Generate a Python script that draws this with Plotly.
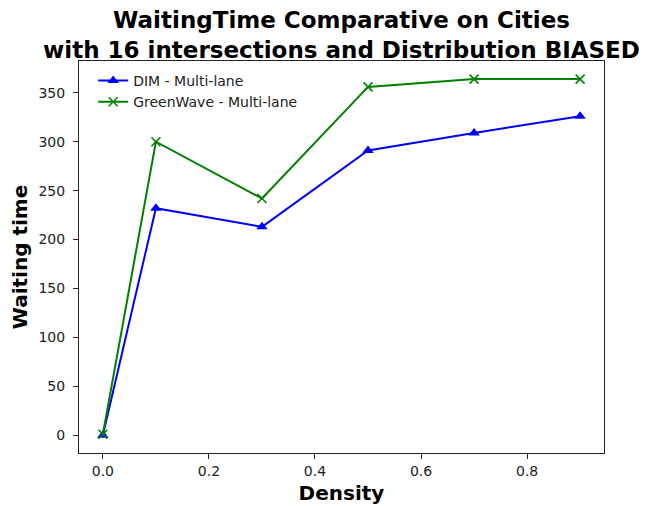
import plotly.graph_objects as go

density = [0.0, 0.1, 0.3, 0.5, 0.7, 0.9]
dim_multilane = [0, 232, 213, 291, 309, 326]
greenwave_multilane = [1, 300, 242, 356, 364, 364]

x_ticks = [0.0, 0.2, 0.4, 0.6, 0.8]
x_tick_labels = ["0.0", "0.2", "0.4", "0.6", "0.8"]
y_ticks = [0, 50, 100, 150, 200, 250, 300, 350]

FONT = "DejaVu Sans"
# page body has an 8px margin, so the figure is drawn 8px shorter/narrower
W, H = 644, 498

fig = go.Figure()
fig.add_trace(go.Scatter(
    x=density, y=dim_multilane, mode="lines+markers",
    name="DIM - Multi-lane",
    line=dict(color="#0000ff", width=2),
    marker=dict(symbol="triangle-up", size=10, color="#0000ff"),
))
fig.add_trace(go.Scatter(
    x=density, y=greenwave_multilane, mode="lines+markers",
    name="GreenWave - Multi-lane",
    line=dict(color="#008000", width=2),
    marker=dict(symbol="x-thin", size=9, color="#008000",
                line=dict(color="#008000", width=1.6)),
))

fig.update_layout(
    width=W, height=H,
    margin=dict(l=71, r=48, t=53, b=53, autoexpand=False),
    paper_bgcolor="white", plot_bgcolor="white",
    font=dict(family=FONT, size=14, color="#222222"),
    title=dict(
        text="<b>WaitingTime Comparative on Cities<br>with 16 intersections and Distribution BIASED</b>",
        x=0.5, xref="paper", xanchor="center",
        y=1 - 20 / H, yref="container", yanchor="middle",
        font=dict(family=FONT, size=23, color="black"),
        automargin=False,
    ),
    showlegend=True,
    legend=dict(
        x=0.027, y=0.99, xanchor="left", yanchor="top",
        bgcolor="rgba(255,255,255,0)", borderwidth=0,
        font=dict(family=FONT, size=14, color="#222222"),
        itemwidth=30,
    ),
    xaxis=dict(
        range=[-0.045, 0.945],
        tickvals=x_ticks, ticktext=x_tick_labels,
        showgrid=False, zeroline=False, automargin=False,
        showline=True, linecolor="#222222", linewidth=1.1, mirror=True,
        ticks="outside", ticklen=5, tickwidth=1, tickcolor="#222222",
        tickfont=dict(family=FONT, size=14, color="#222222"),
        title=dict(text="<b>Density</b>", standoff=8,
                   font=dict(family=FONT, size=20, color="black")),
    ),
    yaxis=dict(
        range=[-18.2, 382.5],
        tickvals=y_ticks,
        showgrid=False, zeroline=False, automargin=False,
        showline=True, linecolor="#222222", linewidth=1.1, mirror=True,
        ticks="outside", ticklen=5, tickwidth=1, tickcolor="#222222",
        ticklabelstandoff=5,
        tickfont=dict(family=FONT, size=14, color="#222222"),
        title=dict(text="<b>Waiting time</b>", standoff=10,
                   font=dict(family=FONT, size=20, color="black")),
    ),
)

fig.write_html("out.html")
